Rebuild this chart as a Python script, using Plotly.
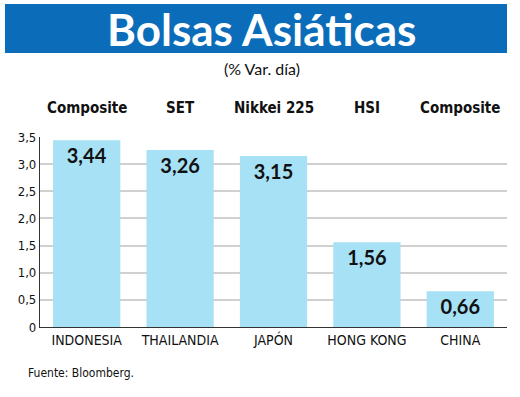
import plotly.graph_objects as go

countries = ["INDONESIA", "THAILANDIA", "JAPÓN", "HONG KONG", "CHINA"]
indices = ["Composite", "SET", "Nikkei 225", "HSI", "Composite"]
values = [3.44, 3.26, 3.15, 1.56, 0.66]
tick_vals = [0, 0.5, 1.0, 1.5, 2.0, 2.5, 3.0, 3.5]
tick_text = ["0", "0,5", "1,0", "1,5", "2,0", "2,5", "3,0", "3,5"]

COND = "Liberation Sans Narrow, DejaVu Sans Condensed, Arial Narrow, sans-serif"
HUM = "Lato, Noto Sans, sans-serif"

fig = go.Figure()
fig.add_trace(go.Bar(
    x=countries, y=values,
    marker=dict(color="#A6E1F6", line=dict(width=0)),
    text=["<b>%s</b>" % f"{v:.2f}".replace(".", ",") for v in values],
    textposition="inside", insidetextanchor="end",
    textfont=dict(family=HUM, size=20, color="#111111"),
    constraintext="none",
    cliponaxis=False,
    hoverinfo="skip",
))

for c, name in zip(countries, indices):
    fig.add_annotation(x=c, y=1.153, xref="x", yref="paper", text="<b>%s</b>" % name,
                       yanchor="middle", xanchor="center",
                       showarrow=False, font=dict(family=COND, size=15, color="#111111"))

# banner
fig.add_shape(type="rect", xref="paper", yref="paper", x0=-0.075, x1=1.0, y0=1.442, y1=1.70,
              fillcolor="#0B6DB9", line=dict(width=0), layer="below")
fig.add_annotation(x=0.475, y=1.571, xref="paper", yref="paper", text="<b>Bolsas Asiáticas</b>",
                   xanchor="center", yanchor="middle",
                   showarrow=False, font=dict(family=HUM, size=44, color="white"))
fig.add_annotation(x=0.475, y=1.363, xref="paper", yref="paper", text="(% Var. día)",
                   xanchor="center", yanchor="middle",
                   showarrow=False, font=dict(family=HUM, size=16, color="#111111"))
fig.add_annotation(x=-0.029, y=-0.24, xref="paper", yref="paper", text="Fuente: Bloomberg.",
                   xanchor="left", yanchor="middle", showarrow=False,
                   font=dict(family=COND, size=12, color="#111111"))

fig.update_layout(
    width=520, height=397,
    margin=dict(l=40, r=13, t=137, b=70),
    paper_bgcolor="white", plot_bgcolor="white",
    bargap=0.28, showlegend=False,
    separators=",.",
)
fig.update_xaxes(showline=True, linecolor="#333333", linewidth=1.2, ticks="",
                 tickfont=dict(family=COND, size=14, color="#111111"), showgrid=False)
fig.update_yaxes(range=[0, 3.5], tickvals=tick_vals, ticktext=tick_text,
                 showline=True, linecolor="#333333", linewidth=1.2,
                 showgrid=True, gridcolor="#D0D0D0", gridwidth=1.5, zeroline=False,
                 ticks="", tickfont=dict(family=COND, size=13, color="#111111"))

# remove the browser's default 8px body margin so the figure fills the window
fig.write_html("out.html", config={"displayModeBar": False},
               post_script="document.body.style.margin='0';document.body.style.overflow='hidden';")
